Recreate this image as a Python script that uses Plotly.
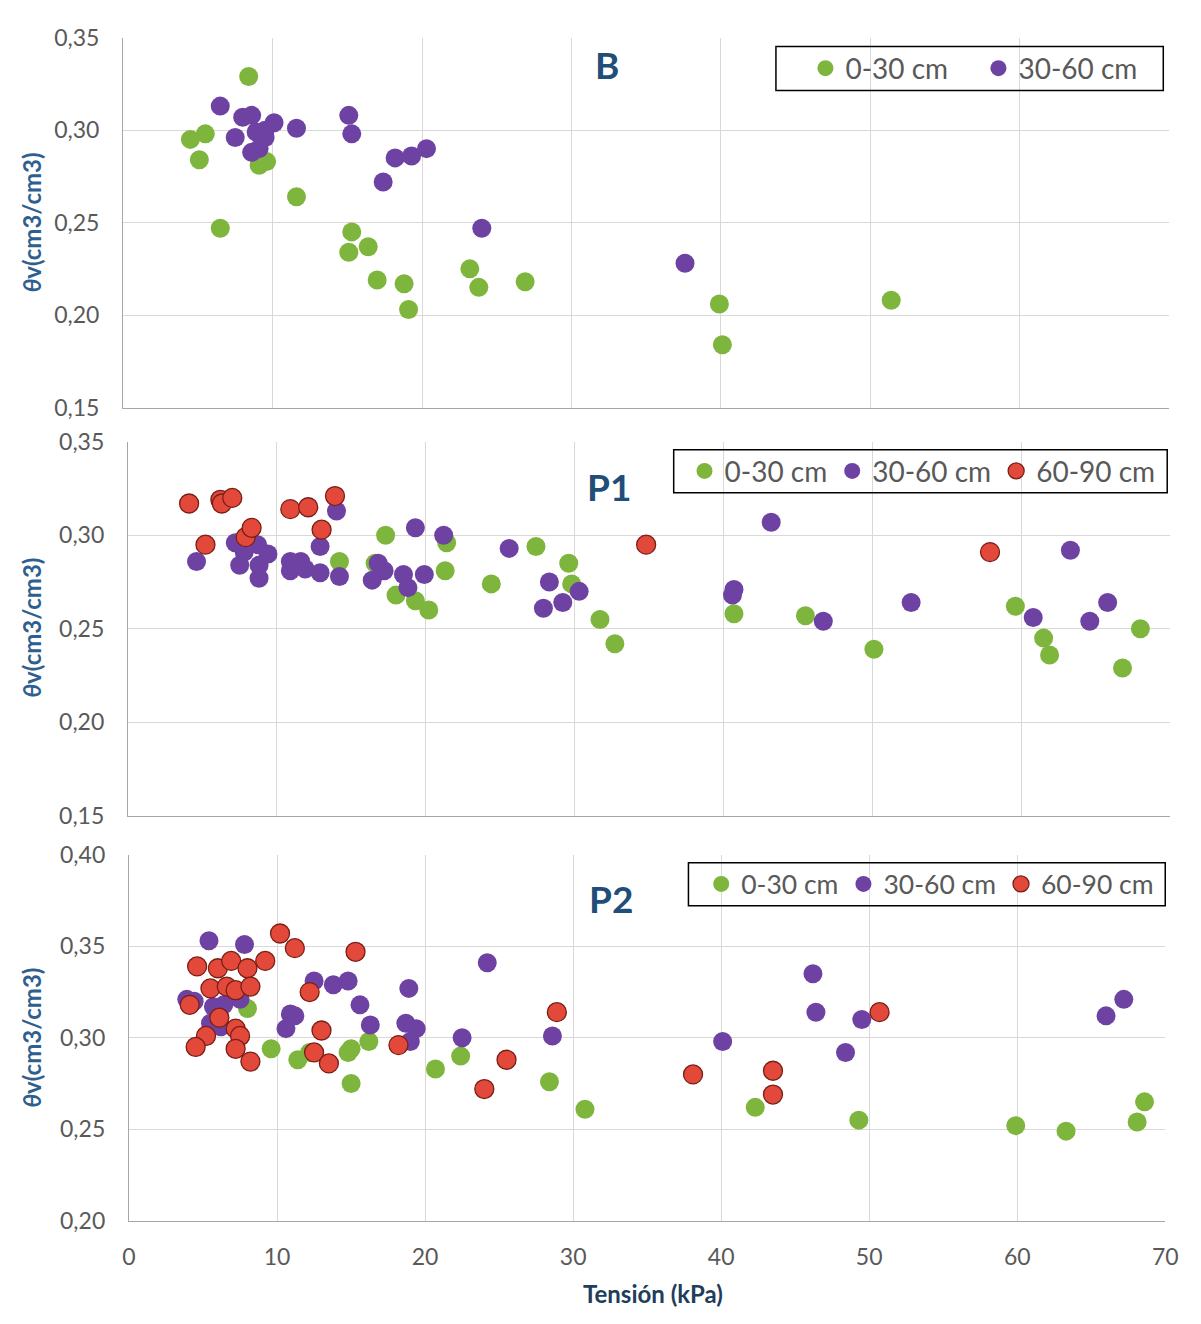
import plotly.graph_objects as go

# ---------------- data ----------------
series_names = ["0-30 cm", "30-60 cm", "60-90 cm"]

# Panel B
b_030_x = [8.4, 4.5, 5.5, 5.1, 9.1, 9.6, 11.6, 6.5, 15.3, 15.1, 16.4, 17.0, 18.8, 19.1, 23.2, 23.8, 26.9, 39.9, 40.1, 51.4]
b_030_y = [0.329, 0.295, 0.298, 0.284, 0.281, 0.283, 0.264, 0.247, 0.245, 0.234, 0.237, 0.219, 0.217, 0.203, 0.225, 0.215, 0.218, 0.206, 0.184, 0.208]
b_3060_x = [6.5, 8.0, 8.6, 7.5, 8.9, 9.5, 10.1, 11.6, 8.6, 9.1, 9.5, 15.1, 15.3, 18.2, 19.3, 20.3, 17.4, 24.0, 37.6]
b_3060_y = [0.313, 0.307, 0.308, 0.296, 0.299, 0.300, 0.304, 0.301, 0.288, 0.290, 0.296, 0.308, 0.298, 0.285, 0.286, 0.290, 0.272, 0.247, 0.228]

# Panel P1
p1_030_x = [17.3, 14.2, 16.6, 21.3, 21.4, 18.0, 19.3, 20.2, 24.4, 27.4, 29.6, 29.8, 31.7, 32.7, 40.7, 45.5, 50.1, 59.6, 61.5, 61.9, 68.0, 66.8]
p1_030_y = [0.300, 0.286, 0.285, 0.281, 0.296, 0.268, 0.265, 0.260, 0.274, 0.294, 0.285, 0.274, 0.255, 0.242, 0.258, 0.257, 0.239, 0.262, 0.245, 0.236, 0.250, 0.229]
p1_3060_x = [4.6, 7.2, 7.8, 7.5, 8.7, 8.8, 8.8, 9.4, 10.9, 10.9, 11.6, 11.9, 12.9, 12.9, 14.0, 14.2, 16.8, 17.2, 16.4, 18.5, 18.8, 19.3, 19.9, 21.2, 25.6, 28.3, 30.3, 27.9, 29.2, 43.2, 40.7, 40.6, 46.7, 52.6, 63.3, 60.8, 65.8, 64.6]
p1_3060_y = [0.286, 0.296, 0.291, 0.284, 0.295, 0.277, 0.284, 0.290, 0.286, 0.281, 0.286, 0.282, 0.280, 0.294, 0.313, 0.278, 0.285, 0.281, 0.276, 0.279, 0.272, 0.304, 0.279, 0.300, 0.293, 0.275, 0.270, 0.261, 0.264, 0.307, 0.271, 0.268, 0.254, 0.264, 0.292, 0.256, 0.264, 0.254]
p1_6090_x = [4.1, 5.2, 6.2, 6.3, 7.0, 7.9, 8.3, 10.9, 12.1, 13.0, 13.9, 34.8, 57.9]
p1_6090_y = [0.317, 0.295, 0.319, 0.317, 0.320, 0.299, 0.304, 0.314, 0.315, 0.303, 0.321, 0.295, 0.291]

# Panel P2
p2_030_x = [8.0, 9.6, 11.4, 12.2, 15.0, 14.8, 16.2, 15.0, 20.7, 22.4, 28.4, 30.8, 42.3, 49.3, 59.9, 63.3, 68.1, 68.6]
p2_030_y = [0.316, 0.294, 0.288, 0.292, 0.294, 0.292, 0.298, 0.275, 0.283, 0.290, 0.276, 0.261, 0.262, 0.255, 0.252, 0.249, 0.254, 0.265]
p2_3060_x = [5.4, 7.8, 12.5, 13.8, 14.8, 18.9, 15.6, 3.9, 4.4, 7.5, 5.7, 6.4, 10.9, 11.2, 10.6, 16.3, 18.7, 19.4, 19.0, 5.5, 6.2, 24.2, 22.5, 28.6, 40.1, 46.2, 46.4, 48.4, 49.5, 66.0, 67.2]
p2_3060_y = [0.353, 0.351, 0.331, 0.329, 0.331, 0.327, 0.318, 0.321, 0.320, 0.321, 0.317, 0.318, 0.313, 0.312, 0.305, 0.307, 0.308, 0.305, 0.298, 0.308, 0.306, 0.341, 0.300, 0.301, 0.298, 0.335, 0.314, 0.292, 0.310, 0.312, 0.321]
p2_6090_x = [10.2, 11.2, 15.3, 4.6, 6.0, 6.9, 8.0, 9.2, 5.5, 6.6, 7.2, 8.2, 4.1, 6.1, 12.2, 7.2, 7.5, 5.2, 4.5, 7.2, 8.2, 13.0, 12.5, 13.5, 18.2, 28.9, 25.5, 24.0, 38.1, 43.5, 43.5, 50.7]
p2_6090_y = [0.357, 0.349, 0.347, 0.339, 0.338, 0.342, 0.338, 0.342, 0.327, 0.328, 0.326, 0.328, 0.318, 0.311, 0.325, 0.305, 0.301, 0.301, 0.295, 0.294, 0.287, 0.304, 0.292, 0.286, 0.296, 0.314, 0.288, 0.272, 0.280, 0.282, 0.269, 0.314]

x_ticks = [0, 10, 20, 30, 40, 50, 60, 70]
panel_labels = ["B", "P1", "P2"]
y_title = "<i>θ</i>v(cm3/cm3)"
x_title = "Tensión (kPa)"

# ---------------- styling ----------------
FONT = "Lato, 'Open Sans', sans-serif"
GREEN = "#7DB53D"
PURPLE = "#6E42A2"
RED = "#E2493B"
TITLE_BLUE = "#1F4E79"
TICK_GREY = "#595959"

OX, OY = 8, 8            # page body margin
FW, FH = 1185, 1308      # figure size


def fx(p):
    return (p - OX) / FW


def fy(p):
    return 1 - (p - OY) / FH


# pixel boxes of the three plot areas (left, right, top, bottom)
boxes = [(118, 1182, 23, 401), (123, 1183, 436, 818), (124, 1178, 858, 1232)]
y_ranges = [[0.15, 0.35], [0.15, 0.35], [0.20, 0.40]]

fig = go.Figure()

panels = [
    [(b_030_x, b_030_y, GREEN), (b_3060_x, b_3060_y, PURPLE)],
    [(p1_030_x, p1_030_y, GREEN), (p1_3060_x, p1_3060_y, PURPLE), (p1_6090_x, p1_6090_y, RED)],
    [(p2_030_x, p2_030_y, GREEN), (p2_3060_x, p2_3060_y, PURPLE), (p2_6090_x, p2_6090_y, RED)],
]
legend_ids = ["legend", "legend2", "legend3"]

for i, series in enumerate(panels):
    ax = "" if i == 0 else str(i + 1)
    for j, (xs, ys, col) in enumerate(series):
        line = dict(color="#7A1E16", width=1.3) if col == RED else dict(color=col, width=0)
        fig.add_trace(go.Scatter(
            x=xs, y=ys, mode="markers", name=series_names[j],
            marker=dict(color=col, size=19, line=line),
            xaxis="x" + ax, yaxis="y" + ax, legend=legend_ids[i],
        ))

layout = dict(
    width=FW, height=FH, margin=dict(l=0, r=0, t=0, b=0),
    paper_bgcolor="white", plot_bgcolor="white",
    separators=",.", showlegend=True,
    font=dict(family=FONT, color=TICK_GREY),
)

for i, (l, r, t, b) in enumerate(boxes):
    ax = "" if i == 0 else str(i + 1)
    layout["xaxis" + ax] = dict(
        domain=[fx(l), fx(r)], range=[0, 70], tickvals=x_ticks,
        showgrid=True, gridcolor="#D9D9D9", gridwidth=1,
        showline=True, linecolor="#A6A6A6", linewidth=1.3,
        zeroline=False, ticks="", anchor="y" + ax,
        showticklabels=(i == 2), ticklabelstandoff=15,
        tickfont=dict(size=23, color=TICK_GREY, family=FONT),
    )
    layout["yaxis" + ax] = dict(
        domain=[fy(b), fy(t)], range=y_ranges[i], dtick=0.05, tickformat=".2f",
        showgrid=True, gridcolor="#D9D9D9", gridwidth=1,
        showline=True, linecolor="#A6A6A6", linewidth=1.3,
        zeroline=False, ticks="", anchor="x" + ax, ticklabelstandoff=18,
        tickfont=dict(size=23, color=TICK_GREY, family=FONT),
    )

# legends (x = left of first item, y = vertical centre)
leg_specs = [(812, 54.5, 28, 128), (689, 466, 28, None), (706, 888, 26.5, None)]
for (lx, ly, fs, ew), lid in zip(leg_specs, legend_ids):
    leg = dict(
        orientation="h", x=fx(lx), y=fy(ly), xanchor="left", yanchor="middle",
        bgcolor="rgba(0,0,0,0)", borderwidth=0,
        font=dict(size=fs, color=TICK_GREY, family=FONT),
        itemsizing="trace",
    )
    if ew:
        leg["entrywidth"] = ew
    layout[lid] = leg

fig.update_layout(**layout)

# legend frames
frames = [(782, 1176, 32, 77), (678, 1180, 444, 488), (693, 1178, 866, 910)]
for (l, r, t, b) in frames:
    fig.add_shape(type="rect", xref="paper", yref="paper",
                  x0=fx(l), x1=fx(r), y0=fy(b), y1=fy(t),
                  line=dict(color="black", width=1.5), fillcolor="rgba(0,0,0,0)")

# panel labels
for lab, (cx, cy) in zip(panel_labels, [(610, 50), (612, 482), (614, 903)]):
    fig.add_annotation(text=f"<b>{lab}</b>", x=fx(cx), y=fy(cy), xref="paper", yref="paper",
                       xanchor="center", yanchor="middle", showarrow=False,
                       font=dict(size=37, color=TITLE_BLUE, family=FONT))

# y titles
for cy in [212, 626, 1045]:
    fig.add_annotation(text=f"<b>{y_title}</b>", x=fx(25), y=fy(cy), xref="paper", yref="paper",
                       xanchor="center", yanchor="middle", showarrow=False, textangle=-90,
                       font=dict(size=24, color="#2F5F8F", family=FONT))

# x title
fig.add_annotation(text=f"<b>{x_title}</b>", x=fx(657), y=fy(1306), xref="paper", yref="paper",
                   xanchor="center", yanchor="middle", showarrow=False,
                   font=dict(size=24, color="#203D5C", family=FONT))

fig.write_html("out.html")
